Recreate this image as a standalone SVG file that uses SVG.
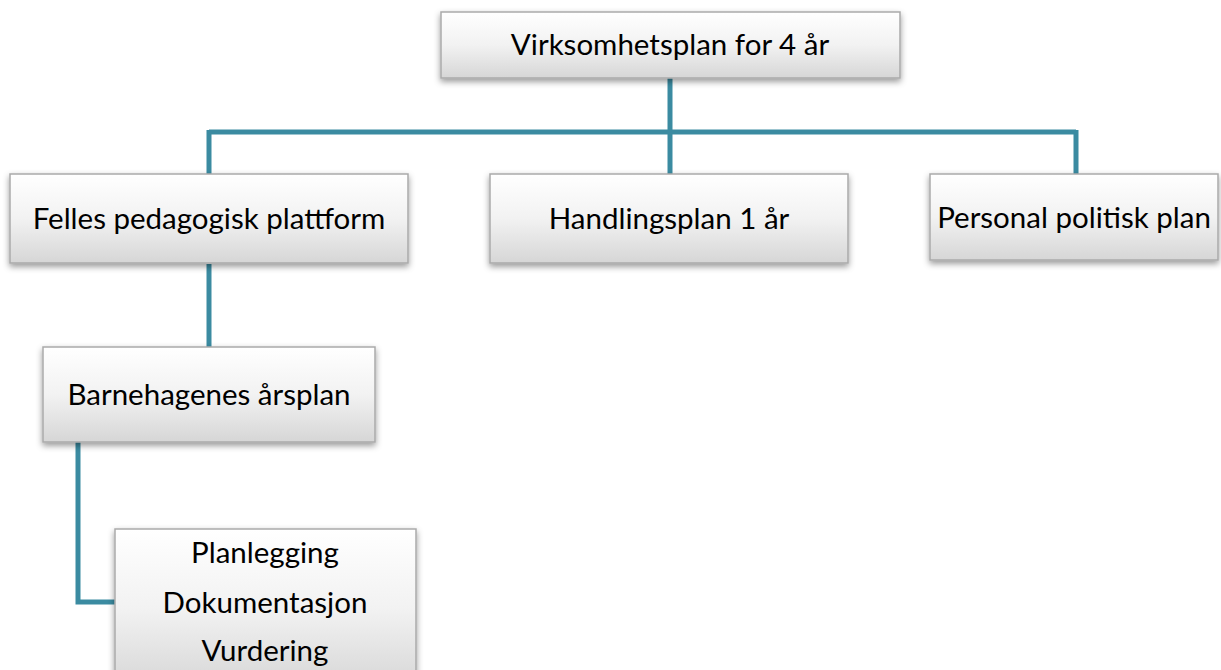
<svg xmlns="http://www.w3.org/2000/svg" width="1221" height="670" viewBox="0 0 1221 670">
<defs>
<linearGradient id="g" x1="0" y1="0" x2="0" y2="1">
<stop offset="0" stop-color="#ffffff"/>
<stop offset="0.5" stop-color="#f2f2f2"/>
<stop offset="1" stop-color="#d6d6d6"/>
</linearGradient>
<filter id="sh" x="-10%" y="-20%" width="120%" height="150%">
<feDropShadow dx="0" dy="3" stdDeviation="3" flood-color="#000" flood-opacity="0.4"/>
</filter>
</defs>
<style>
.box{fill:url(#g);stroke:#aaaaaa;stroke-width:1.5;filter:url(#sh)}
.t{font-family:Lato,"Open Sans","Liberation Sans",sans-serif;font-size:29.5px;fill:#000;text-anchor:middle}
.c{fill:none;stroke:#3b8ba1;stroke-width:5}
</style>
<rect width="1221" height="670" fill="#fff"/>
<g id="connectors">
<path class="c" d="M670 78 V132 M209 132 H1076 M209 130 V174 M670 132 V174 M1076 130 V174"/>
<path class="c" d="M209 264 V347"/>
<path class="c" d="M78 442 V602 H115"/>
</g>
<g id="n1"><rect class="box" x="441" y="12" width="459" height="66"/><text class="t" x="670" y="55">Virksomhetsplan for 4 år</text></g>
<g id="n2"><rect class="box" x="10" y="174" width="398" height="89"/><text class="t" x="209" y="229">Felles pedagogisk plattform</text></g>
<g id="n3"><rect class="box" x="490" y="174" width="358" height="89"/><text class="t" x="669" y="229">Handlingsplan 1 år</text></g>
<g id="n4"><rect class="box" x="930" y="174" width="288" height="86"/><text class="t" x="1074" y="228">Personal politisk plan</text></g>
<g id="n5"><rect class="box" x="43" y="347" width="332" height="95"/><text class="t" x="209" y="405">Barnehagenes årsplan</text></g>
<g id="n6"><rect class="box" x="115" y="529" width="301" height="160"/><text class="t" x="265" y="563">Planlegging</text><text class="t" x="265" y="613">Dokumentasjon</text><text class="t" x="265" y="661">Vurdering</text></g>
</svg>
